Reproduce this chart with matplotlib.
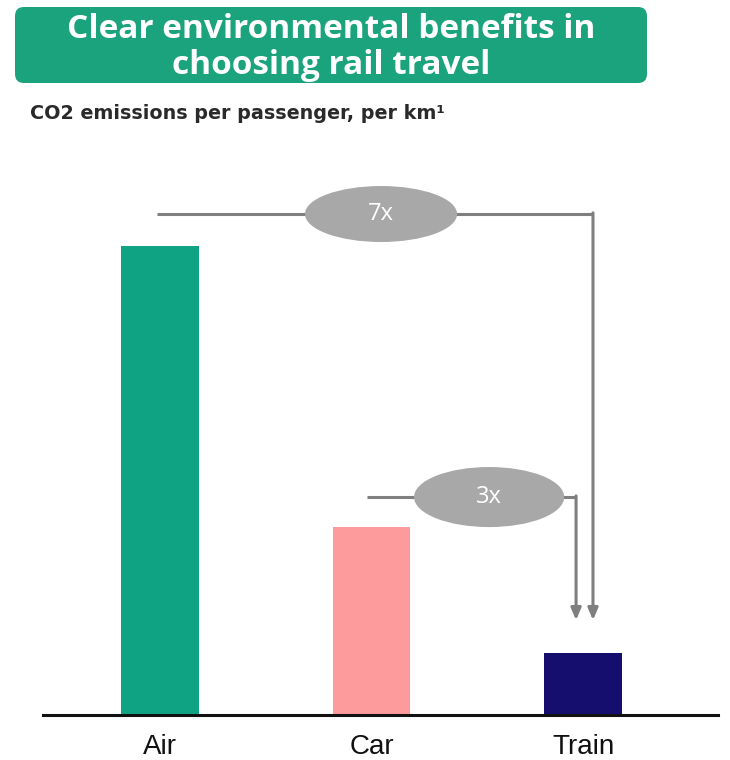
import matplotlib
matplotlib.use("Agg")
import matplotlib.pyplot as plt
from matplotlib.patches import FancyBboxPatch, Ellipse

categories = ["Air", "Car", "Train"]
values = [242, 97, 32]           # CO2 emissions per passenger-km (relative)
bar_colors = ["#0fa283", "#fd9a9c", "#150e6e"]
ratios = ["7x", "3x"]

title_lines = ["Clear environmental benefits in", "choosing rail travel"]
subtitle = "CO2 emissions per passenger, per km\u00b9"

W, H = 730, 760
fig = plt.figure(figsize=(W / 100, H / 100), dpi=100)
fig.patch.set_facecolor("white")

# title banner
box = FancyBboxPatch((15 / W, 1 - 83 / H), 632 / W, 76 / H,
                     boxstyle="round,pad=0,rounding_size=0.012",
                     transform=fig.transFigure, facecolor="#1aa37c",
                     edgecolor="none", zorder=0)
fig.patches.append(box)
fig.text(331 / W, 1 - 38 / H, title_lines[0], ha="center", va="baseline", color="white",
         fontsize=24, fontweight="bold", family="Open Sans")
fig.text(331 / W, 1 - 74 / H, title_lines[1], ha="center", va="baseline", color="white",
         fontsize=24, fontweight="bold", family="Open Sans")
fig.text(30 / W, 1 - 119 / H, subtitle, ha="left", va="baseline", color="#2a2a2a",
         fontsize=13.8, fontweight="bold", family="DejaVu Sans")

# axes: left 43 px, right 718 px, bottom 715 px, top 140 px
ax = fig.add_axes([43 / W, 1 - 715 / H, 675 / W, 575 / H])
x = list(range(len(categories)))
ax.bar(x, values, width=0.365, color=bar_colors, zorder=2)
ax.set_xlim(-0.553, 2.638)
ax.set_ylim(0, 296.8)
for s in ["top", "right", "left"]:
    ax.spines[s].set_visible(False)
ax.spines["bottom"].set_linewidth(2.2)
ax.spines["bottom"].set_color("#111111")
ax.set_yticks([])
ax.set_xticks(x)
ax.set_xticklabels(categories, fontsize=20, family="Liberation Sans", color="#111111")
ax.tick_params(axis="x", length=0, pad=14)

line_c = "#7f7f7f"
ell_c = "#a8a8a8"
tip_y = values[2] + 17

# 7x bracket: from Air to Train
y7 = values[0] + 16.6
x7_end = x[2] + 0.047
ax.plot([x[0] - 0.014, x7_end], [y7, y7], color=line_c, lw=2.2, zorder=3, solid_capstyle="butt")
ax.annotate("", xy=(x7_end, tip_y), xytext=(x7_end, y7 + 0.6),
            arrowprops=dict(arrowstyle="-|>,head_length=0.7,head_width=0.3",
                            color=line_c, lw=2.2, shrinkA=0, shrinkB=0), zorder=3)
ax.add_patch(Ellipse((1.045, y7), 0.719, 28.9, facecolor=ell_c, edgecolor="none", zorder=4))
ax.text(1.045, y7, ratios[0], ha="center", va="center", color="white",
        fontsize=17, family="Open Sans", zorder=5)

# 3x bracket: from Car to Train
y3 = values[1] + 15.5
x3_end = x[2] - 0.033
ax.plot([x[1] - 0.02, x3_end], [y3, y3], color=line_c, lw=2.2, zorder=3, solid_capstyle="butt")
ax.annotate("", xy=(x3_end, tip_y), xytext=(x3_end, y3 + 0.6),
            arrowprops=dict(arrowstyle="-|>,head_length=0.7,head_width=0.3",
                            color=line_c, lw=2.2, shrinkA=0, shrinkB=0), zorder=3)
ax.add_patch(Ellipse((1.556, y3), 0.71, 31, facecolor=ell_c, edgecolor="none", zorder=4))
ax.text(1.556, y3, ratios[1], ha="center", va="center", color="white",
        fontsize=17, family="Open Sans", zorder=5)

fig.savefig("out.png", dpi=100, facecolor="white")
